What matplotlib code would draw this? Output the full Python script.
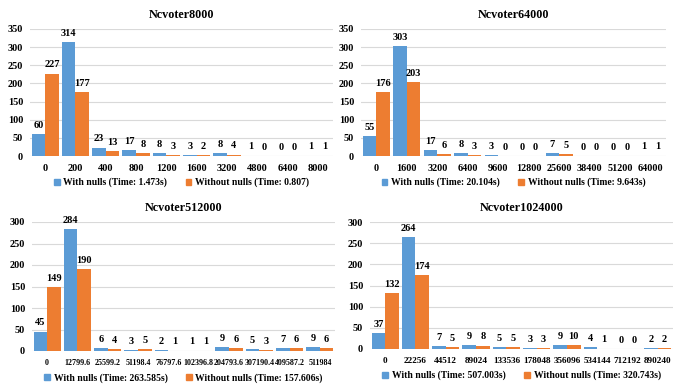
import matplotlib.pyplot as plt
from matplotlib.patches import Patch
import numpy as np

plt.rcParams['font.family'] = ['Liberation Serif', 'DejaVu Serif']
plt.rcParams['font.weight'] = 'bold'

# Data
titles = ['Ncvoter8000', 'Ncvoter64000', 'Ncvoter512000', 'Ncvoter1024000']

labels_8000 = ['0', '200', '400', '800', '1200', '1600', '3200', '4800', '6400', '8000']
with_8000 = [60, 314, 23, 17, 8, 3, 8, 1, 0, 1]
without_8000 = [227, 177, 13, 8, 3, 2, 4, 0, 0, 1]

labels_64000 = ['0', '1600', '3200', '6400', '9600', '12800', '25600', '38400', '51200', '64000']
with_64000 = [55, 303, 17, 8, 3, 0, 7, 0, 0, 1]
without_64000 = [176, 203, 6, 3, 0, 0, 5, 0, 0, 1]

labels_512000 = ['0', '12799.6', '25599.2', '51198.4', '76797.6', '102396.8',
                 '204793.6', '307190.4', '409587.2', '511984']
with_512000 = [45, 284, 6, 3, 2, 1, 9, 5, 7, 9]
without_512000 = [149, 190, 4, 5, 1, 1, 6, 3, 6, 6]

labels_1024000 = ['0', '22256', '44512', '89024', '133536', '178048', '356096',
                  '534144', '712192', '890240']
with_1024000 = [37, 264, 7, 9, 5, 3, 9, 4, 0, 2]
without_1024000 = [132, 174, 5, 8, 5, 3, 10, 1, 0, 2]

legend_with = ['With nulls (Time: 1.473s)', 'With nulls (Time: 20.104s)',
               'With nulls (Time: 263.585s)', 'With nulls (Time: 507.003s)']
legend_without = ['Without nulls (Time: 0.807)', 'Without nulls (Time: 9.643s)',
                  'Without nulls (Time: 157.606s)', 'Without nulls (Time: 320.743s)']

ymaxes = [350, 350, 300, 300]
xlabel_sizes = [7.5, 7.3, 5.8, 6.6]

blue = '#5B9BD5'
orange = '#ED7D31'

fig = plt.figure(figsize=(6.73, 3.86), dpi=100)

# axes rectangles (figure fractions)
rects = [
    [30 / 673, 1 - 156 / 386, 303 / 673, 127 / 386],
    [361 / 673, 1 - 156 / 386, 305 / 673, 127 / 386],
    [32 / 673, 1 - 351 / 386, 303 / 673, 129 / 386],
    [370 / 673, 1 - 349 / 386, 303 / 673, 127 / 386],
]

all_labels = [labels_8000, labels_64000, labels_512000, labels_1024000]
all_with = [with_8000, with_64000, with_512000, with_1024000]
all_without = [without_8000, without_64000, without_512000, without_1024000]

w = 0.45
for i in range(4):
    ax = fig.add_axes(rects[i])
    x = np.arange(len(all_labels[i]))
    b1 = ax.bar(x - w / 2, all_with[i], w, color=blue, zorder=3)
    b2 = ax.bar(x + w / 2, all_without[i], w, color=orange, zorder=3)
    for bars in (b1, b2):
        for rect in bars:
            h = rect.get_height()
            ax.annotate(str(int(h)), (rect.get_x() + rect.get_width() / 2, h),
                        xytext=(0, 3), textcoords='offset points',
                        ha='center', va='bottom', fontsize=7.5, fontweight='bold')
    ax.set_xlim(-0.5, len(x) - 0.5)
    ax.set_ylim(0, ymaxes[i])
    ax.set_yticks(np.arange(0, ymaxes[i] + 1, 50))
    ax.set_xticks(x)
    ax.set_xticklabels(all_labels[i])
    ax.tick_params(axis='both', length=0)
    ax.tick_params(axis='y', labelsize=7.4, pad=5)
    ax.tick_params(axis='x', labelsize=xlabel_sizes[i], pad=6)
    for s in ax.spines.values():
        s.set_visible(False)
    ax.yaxis.grid(True, color='#D9D9D9', linewidth=0.8, zorder=0)
    ax.set_axisbelow(True)
    ax.set_title(titles[i], fontsize=8.7, fontweight='bold', pad=8)
    handles = [Patch(color=blue), Patch(color=orange)]
    ax.legend(handles, [legend_with[i], legend_without[i]], ncol=2,
              loc='center', bbox_to_anchor=(0.5, -0.21), frameon=False,
              fontsize=6.9, handlelength=0.6, handleheight=0.6,
              handletextpad=0.4, columnspacing=1.9)

plt.savefig('out.png', dpi=100)
